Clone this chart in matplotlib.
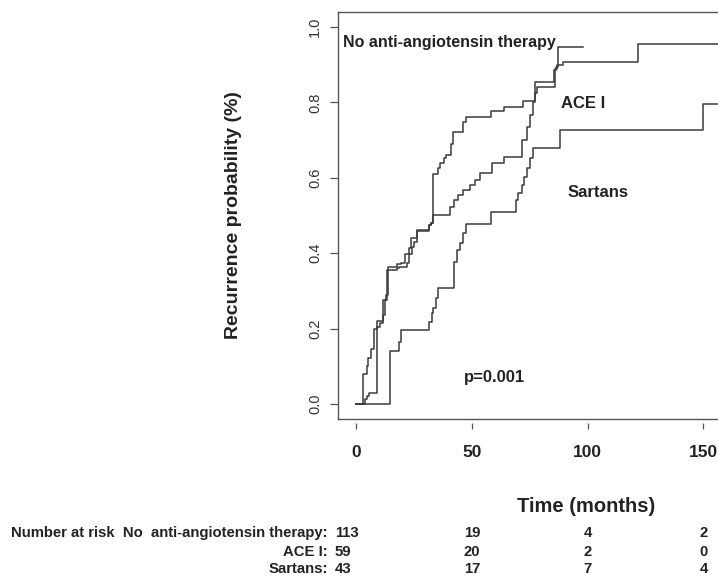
import matplotlib
matplotlib.use('Agg')
import matplotlib.pyplot as plt
from matplotlib import font_manager
from matplotlib.transforms import blended_transform_factory

# step curves (months, cumulative recurrence)
ace_t = [0, 3.2, 4.6, 5.3, 6.3, 7.8, 9.2, 11.5, 13.0, 14.0, 17.6, 19.3, 21.0, 23.0, 23.8,
         26.5, 31.3, 32.5, 33.1, 35.3, 36.3, 38.0, 39.0, 41.0, 42.0, 46.0, 47.3, 58.1, 63.9,
         72.2, 77.3, 85.5, 86.4, 87.4, 98.0]
ace_s = [0, 0.08, 0.101, 0.121, 0.145, 0.2, 0.221, 0.276, 0.29, 0.364, 0.371, 0.375, 0.398,
         0.414, 0.44, 0.462, 0.475, 0.48, 0.61, 0.625, 0.638, 0.652, 0.66, 0.69, 0.722, 0.749,
         0.762, 0.776, 0.789, 0.805, 0.853, 0.886, 0.895, 0.948, 0.948]

none_t = [0, 3.9, 4.6, 5.5, 9.2, 10.3, 11.5, 12.5, 13.5, 17.6, 18.7, 22.0, 23.0, 24.1, 25.1,
          26.1, 31.3, 32.3, 33.1, 40.6, 42.3, 44.0, 46.3, 49.2, 51.5, 53.5, 58.6, 63.9, 71.5,
          73.7, 75.1, 76.6, 77.3, 78.3, 85.9, 86.6, 89.5, 121.9, 160]
none_s = [0, 0.012, 0.02, 0.03, 0.205, 0.215, 0.235, 0.276, 0.355, 0.36, 0.364, 0.375, 0.398,
          0.417, 0.43, 0.46, 0.475, 0.48, 0.501, 0.522, 0.541, 0.555, 0.568, 0.581, 0.595,
          0.613, 0.639, 0.656, 0.70, 0.735, 0.767, 0.80, 0.826, 0.84, 0.89, 0.9, 0.908, 0.955,
          0.955]

sart_t = [0, 14.7, 18.7, 19.4, 31.3, 32.7, 33.4, 34.4, 35.5, 42.3, 43.7, 44.9, 46.3, 47.5,
          58.2, 69.1, 70.1, 71.5, 72.5, 73.7, 75.1, 76.6, 88.0, 150.0, 160]
sart_s = [0, 0.141, 0.165, 0.196, 0.218, 0.24, 0.255, 0.28, 0.307, 0.377, 0.408, 0.427,
          0.453, 0.477, 0.51, 0.541, 0.559, 0.581, 0.603, 0.626, 0.652, 0.68, 0.727, 0.796,
          0.796]

x_ticks = [0, 50, 100, 150]
y_ticks = [0.0, 0.2, 0.4, 0.6, 0.8, 1.0]
y_ticklabels = ['0.0', '0.2', '0.4', '0.6', '0.8', '1.0']

# number at risk table
risk_labels = ['Number at risk  No  anti-angiotensin therapy:', 'ACE I:', 'Sartans:']
risk_times = [0, 50, 100, 150]
risk_none = [113, 19, 4, 2]
risk_ace = [59, 20, 2, 0]
risk_sart = [43, 17, 7, 4]

names = {f.name for f in font_manager.fontManager.ttflist}
if 'Liberation Sans Narrow' in names:
    narrow = 'Liberation Sans Narrow'
    tick_fs, table_fs = 14, 12.5
else:
    narrow = 'Liberation Sans'
    tick_fs, table_fs = 12.5, 10.7
plt.rcParams['font.family'] = ['Liberation Sans', 'DejaVu Sans']

ink = '#222222'
line_col = '#3a3a3a'

fig = plt.figure(figsize=(7.18, 5.77), dpi=100)
ax = fig.add_axes([338 / 718, 1 - 419 / 577, (722 - 338) / 718, (419 - 12) / 577])

for t, s in [(none_t, none_s), (ace_t, ace_s), (sart_t, sart_s)]:
    ax.step(t, s, where='post', color=line_col, lw=1.1)

ax.set_xlim(-7.8, 158.0)
ax.set_ylim(-0.04, 1.04)

for sp in ['top', 'left']:
    ax.spines[sp].set_color('#555555')
    ax.spines[sp].set_linewidth(1.0)
ax.spines['right'].set_visible(False)
# ticks hang a bit below the box, like the R axis
ax.spines['bottom'].set_position(('outward', 3))
ax.spines['bottom'].set_visible(False)
ax.plot([0, 1], [0, 0], transform=ax.transAxes, color='#555555', lw=1.0, clip_on=False)

ax.set_xticks(x_ticks)
ax.set_xticklabels([str(v) for v in x_ticks], fontfamily=narrow, fontweight='bold',
                   fontsize=tick_fs, color=ink)
ax.set_yticks(y_ticks)
ax.set_yticklabels(y_ticklabels, rotation=90, va='center', fontsize=10.5, color='#333333')
ax.tick_params(axis='x', direction='out', length=4.5, width=0.9, color='#555555', pad=11)
ax.tick_params(axis='y', direction='out', length=5.5, width=0.9, color='#555555', pad=6)

ax.text(-5.6, 0.958, 'No anti-angiotensin therapy', fontsize=11.5, fontweight='bold',
        color=ink, va='center', ha='left')
ax.text(88.5, 0.798, 'ACE I', fontsize=12, fontweight='bold', color=ink, va='center')
ax.text(91.5, 0.562, 'Sartans', fontsize=12, fontweight='bold', color=ink, va='center')
ax.text(46.6, 0.069, 'p=0.001', fontsize=12, fontweight='bold', color=ink, va='center')

fig.text(234 / 718, 1 - 215 / 577, 'Recurrence probability (%)', rotation=90,
         fontsize=14, fontweight='bold', color=ink, ha='center', va='center')
fig.text(586 / 718, 1 - 506 / 577, 'Time (months)', fontsize=14.5, fontweight='bold',
         color=ink, ha='center', va='center')

tr = blended_transform_factory(ax.transData, fig.transFigure)
row_y = [1 - 533 / 577, 1 - 552 / 577, 1 - 569 / 577]
for lab, counts, yy in zip(risk_labels, [risk_none, risk_ace, risk_sart], row_y):
    fig.text(328 / 718, yy, lab, fontfamily=narrow, fontweight='bold', fontsize=table_fs,
             color=ink, ha='right', va='center')
    for i, (tt, n) in enumerate(zip(risk_times, counts)):
        if i == 0:
            ax.text(tt - 9.1, yy, str(n), transform=tr, fontfamily=narrow, fontweight='bold',
                    fontsize=table_fs, color=ink, ha='left', va='center')
        else:
            ax.text(tt, yy, str(n), transform=tr, fontfamily=narrow, fontweight='bold',
                    fontsize=table_fs, color=ink, ha='center', va='center')

fig.savefig('out.png', dpi=100)
